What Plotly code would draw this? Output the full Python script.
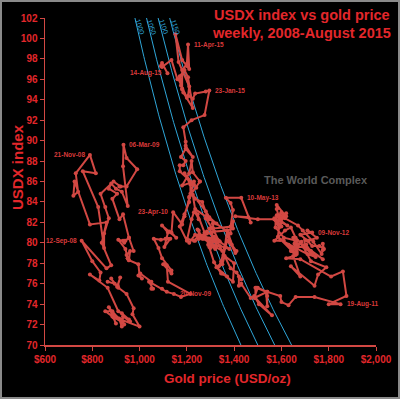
import numpy as np
import pandas as pd
import plotly.graph_objects as go

# ---------------- data (weekly, Friday) ----------------
gold_2008 = [865, 895, 880, 910, 908, 918, 905, 945, 975, 970, 1000, 920, 935, 913, 925, 915, 885, 855, 885, 890,
             925, 885, 900, 870, 903, 928, 930, 960, 955, 925, 910, 865, 790, 830, 835, 800, 755, 860, 880, 840,
             860, 790, 725, 720, 740, 730, 790, 815, 760, 825, 850, 850]
usdx_2008 = [76.2, 76.0, 76.5, 75.6, 75.8, 76.6, 75.7, 75.0, 73.6, 73.0, 71.8, 72.5, 72.0, 72.6, 71.8, 72.5, 73.3, 73.3, 72.8, 72.7,
             72.3, 73.0, 72.1, 73.7, 72.7, 72.2, 72.8, 72.3, 72.5, 73.1, 73.3, 75.6, 76.9, 76.3, 77.1, 78.2, 80.2, 77.5, 77.8, 80.0,
             82.0, 81.8, 86.0, 84.6, 85.0, 86.8, 88.6, 86.8, 87.0, 83.5, 79.5, 80.9]

gold_2009 = [870, 855, 835, 890, 920, 915, 945, 990, 945, 932, 930, 950, 925, 900, 880, 870, 905, 885, 915, 930,
             955, 975, 955, 940, 935, 935, 930, 910, 940, 950, 955, 960, 945, 950, 955, 995, 1000, 1010, 995, 1003,
             1050, 1050, 1057, 1040, 1095, 1115, 1145, 1175, 1215, 1120, 1115, 1105]
usdx_2009 = [82.4, 83.5, 84.8, 86.0, 85.5, 85.5, 85.5, 87.2, 88.3, 89.6, 87.5, 83.6, 85.0, 85.3, 85.8, 85.3, 84.8, 84.3, 82.3, 82.8,
             80.5, 79.2, 80.5, 80.2, 80.2, 80.0, 80.2, 80.3, 79.4, 78.5, 78.3, 79.2, 78.8, 78.5, 78.3, 77.9, 76.8, 76.5, 76.8, 77.0,
             76.2, 75.5, 75.5, 76.2, 75.5, 75.2, 75.0, 74.7, 75.0, 76.2, 77.8, 77.9]

gold_2010 = [1100, 1135, 1135, 1095, 1080, 1060, 1090, 1120, 1110, 1130, 1105, 1120, 1095, 1125, 1155, 1135, 1142, 1180, 1210, 1230,
             1180, 1210, 1220, 1225, 1255, 1255, 1210, 1210, 1190, 1190, 1170, 1200, 1220, 1230, 1235, 1250, 1245, 1275, 1295, 1315,
             1345, 1370, 1325, 1350, 1395, 1400, 1355, 1370, 1410, 1390, 1375, 1380, 1405]
usdx_2010 = [77.9, 77.0, 77.3, 78.5, 79.5, 80.4, 80.3, 80.4, 80.4, 80.4, 79.6, 81.0, 81.7, 81.1, 80.5, 81.0, 83.0, 81.8, 84.4, 86.0,
             85.6, 86.8, 88.0, 86.9, 86.0, 86.0, 84.5, 84.0, 82.8, 82.6, 81.6, 80.2, 82.3, 83.0, 83.0, 82.3, 82.8, 81.0, 79.6, 78.1,
             77.0, 76.7, 77.6, 77.0, 76.2, 78.0, 78.8, 80.2, 79.2, 79.8, 80.6, 80.2, 79.0]

gold_2011 = [1370, 1360, 1345, 1335, 1350, 1360, 1385, 1410, 1430, 1420, 1420, 1430, 1430, 1470, 1485, 1505, 1560, 1490, 1490, 1495,
             1535, 1540, 1540, 1540, 1500, 1485, 1540, 1595, 1600, 1630, 1660, 1740, 1850, 1800, 1875, 1860, 1810, 1680, 1620, 1650,
             1680, 1640, 1740, 1755, 1790, 1725, 1690, 1745, 1710, 1595, 1610, 1570]
usdx_2011 = [81.2, 79.5, 78.2, 77.7, 77.9, 78.7, 77.5, 77.1, 76.4, 76.7, 75.8, 75.9, 76.0, 74.6, 74.8, 74.0, 72.9, 74.6, 75.6, 75.6,
             75.2, 73.8, 74.8, 75.2, 75.6, 74.6, 75.2, 74.8, 74.2, 73.9, 74.7, 74.7, 74.0, 74.0, 74.8, 77.2, 76.7, 78.4, 78.5, 78.7,
             76.7, 77.7, 75.8, 76.9, 77.6, 78.2, 79.7, 78.6, 78.9, 80.3, 80.2, 80.2]

gold_2012 = [1615, 1640, 1660, 1725, 1730, 1725, 1725, 1775, 1710, 1705, 1655, 1660, 1665, 1630, 1655, 1640, 1660, 1645, 1585, 1590,
             1570, 1620, 1590, 1625, 1570, 1600, 1580, 1585, 1580, 1615, 1600, 1620, 1615, 1670, 1690, 1735, 1770, 1775, 1775, 1780,
             1760, 1730, 1710, 1680, 1730, 1710, 1750, 1715, 1700, 1695, 1660, 1660]
usdx_2012 = [81.2, 81.5, 80.5, 79.0, 78.9, 79.0, 79.2, 78.4, 79.5, 79.8, 79.9, 79.4, 78.9, 79.8, 79.5, 79.2, 78.8, 79.2, 80.6, 81.5,
             82.4, 82.9, 82.3, 81.7, 82.3, 81.6, 83.3, 83.4, 83.7, 82.7, 82.3, 82.6, 82.4, 81.7, 81.2, 80.1, 78.9, 79.3, 79.9, 79.4,
             79.7, 79.7, 80.2, 80.8, 81.0, 81.2, 80.5, 80.2, 80.3, 79.6, 79.6, 79.8]

gold_2013 = [1650, 1665, 1685, 1660, 1665, 1665, 1610, 1575, 1575, 1580, 1595, 1610, 1600, 1575, 1500, 1405, 1460, 1470, 1430, 1365,
             1385, 1395, 1385, 1385, 1295, 1235, 1225, 1280, 1295, 1325, 1310, 1315, 1370, 1395, 1395, 1390, 1310, 1330, 1335, 1310,
             1270, 1315, 1350, 1315, 1285, 1285, 1245, 1250, 1230, 1235, 1200, 1210]
usdx_2013 = [80.5, 79.5, 80.1, 79.8, 79.1, 80.2, 80.5, 81.5, 82.2, 82.7, 82.4, 82.5, 83.0, 82.3, 82.3, 82.6, 82.5, 82.0, 84.4, 84.4,
             83.9, 83.2, 81.6, 80.9, 82.3, 83.3, 84.7, 83.1, 82.5, 81.9, 81.9, 81.1, 81.2, 81.4, 82.1, 81.6, 81.4, 80.3, 80.2, 80.1,
             80.4, 79.7, 79.2, 80.6, 81.1, 80.9, 80.7, 80.7, 80.2, 80.2, 80.4, 80.0]

gold_2014 = [1235, 1250, 1250, 1265, 1245, 1260, 1320, 1320, 1325, 1340, 1380, 1335, 1295, 1300, 1320, 1295, 1300, 1300, 1290, 1295,
             1295, 1250, 1250, 1275, 1315, 1320, 1320, 1340, 1310, 1305, 1295, 1310, 1305, 1280, 1285, 1265, 1235, 1215, 1215, 1190,
             1220, 1240, 1230, 1170, 1170, 1185, 1195, 1175, 1195, 1225, 1195, 1195]
usdx_2014 = [80.8, 80.6, 81.2, 80.4, 81.3, 80.7, 80.2, 80.2, 79.7, 79.7, 79.4, 80.2, 80.1, 80.3, 79.4, 79.8, 79.8, 79.5, 79.8, 80.0,
             80.4, 80.4, 80.4, 80.6, 80.4, 80.1, 80.3, 80.1, 80.6, 81.0, 81.4, 81.4, 81.5, 82.4, 82.7, 84.0, 84.3, 84.8, 85.7, 86.8,
             85.9, 85.4, 85.7, 87.0, 87.6, 87.6, 88.0, 88.4, 89.2, 88.4, 89.5, 89.9]

gold_2015 = [1185, 1220, 1275, 1295, 1280, 1235, 1225, 1205, 1210, 1165, 1152, 1180, 1200, 1210, 1205, 1200, 1180, 1180, 1185, 1225,
             1205, 1190, 1170, 1180, 1200, 1175, 1165, 1160, 1135, 1095, 1090, 1095, 1118]
usdx_2015 = [91.3, 92.0, 92.5, 94.9, 94.8, 94.6, 94.1, 94.4, 95.3, 97.7, 100.4, 97.9, 97.3, 97.0, 99.4, 97.5, 96.9, 95.0, 94.7, 93.2,
             96.2, 96.9, 96.3, 95.1, 94.2, 95.4, 96.0, 96.0, 97.9, 97.2, 97.3, 97.6, 96.6]

year_starts = ["2008-01-04", "2009-01-02", "2010-01-01", "2011-01-07", "2012-01-06",
               "2013-01-04", "2014-01-03", "2015-01-02"]
gold_years = [gold_2008, gold_2009, gold_2010, gold_2011, gold_2012, gold_2013, gold_2014, gold_2015]
usdx_years = [usdx_2008, usdx_2009, usdx_2010, usdx_2011, usdx_2012, usdx_2013, usdx_2014, usdx_2015]

# date labels shown on the chart
label_dates = ["21-Nov-08", "06-Mar-09", "12-Sep-08", "23-Apr-10", "20-Nov-09",
               "10-May-13", "09-Nov-12", "19-Aug-11", "23-Jan-15", "11-Apr-15", "14-Aug-15"]
label_sides = ["left", "right", "left", "left", "right",
               "right", "right", "right", "right", "right", "left"]

# iso-lines: gold x USDX / 100 = constant
iso_levels = [1000, 1050, 1100, 1150]

x_ticks = [600, 800, 1000, 1200, 1400, 1600, 1800, 2000]

# ---------------- build series ----------------
dates, gold, usdx = [], [], []
for start, g, u in zip(year_starts, gold_years, usdx_years):
    d = pd.date_range(start, periods=len(g), freq="7D")
    dates.extend(d)
    gold.extend(g)
    usdx.extend(u)
dates = pd.DatetimeIndex(dates)

RED_LINE = "#d24843"
RED_TEXT = "#e3272b"
BLUE = "#2fa6d8"
FONT = "Liberation Sans, Arial, sans-serif"

L, R, T, B = 45, 24, 18, 54
PW, PH = 400 - L - R, 399 - T - B
def px(xp):
    return (xp - L) / PW
def py(yp):
    return (399 - B - yp) / PH

fig = go.Figure()

yy = np.linspace(70, 102, 120)
for k in iso_levels:
    fig.add_trace(go.Scatter(x=k * 100 / yy, y=yy, mode="lines",
                             line=dict(color=BLUE, width=1), hoverinfo="skip", showlegend=False))

fig.add_trace(go.Scatter(x=gold, y=usdx, mode="lines+markers",
                         line=dict(color=RED_LINE, width=2),
                         marker=dict(color=RED_LINE, size=4),
                         showlegend=False))

ann = []
for lab, side in zip(label_dates, label_sides):
    t = pd.to_datetime(lab, format="%d-%b-%y")
    i = int(np.argmin(np.abs((dates - t).days)))
    ann.append(dict(x=gold[i], y=usdx[i], xref="x", yref="y", text=lab, showarrow=False,
                    xanchor="left" if side == "right" else "right",
                    xshift=4 if side == "right" else -3,
                    font=dict(family=FONT, size=6.5, color="#d83a3a", weight="bold")))

for k in iso_levels:
    ann.append(dict(x=k * 100 / 101.8, y=py(16), xref="x", yref="paper", text=str(k), showarrow=False,
                    textangle=72, xshift=5, font=dict(family=FONT, size=7, color=BLUE)))

ann += [
    dict(x=px(392), y=py(15), xref="paper", yref="paper", text="USDX index vs gold price",
         showarrow=False, xanchor="right", yanchor="middle",
         font=dict(family=FONT, size=14.5, color=RED_TEXT, weight="bold")),
    dict(x=px(393), y=py(33), xref="paper", yref="paper", text="weekly, 2008-August 2015",
         showarrow=False, xanchor="right", yanchor="middle",
         font=dict(family=FONT, size=14.5, color=RED_TEXT, weight="bold")),
    dict(x=px(17), y=py(167), xref="paper", yref="paper", text="USDX index", textangle=-90,
         showarrow=False, xanchor="center", yanchor="middle",
         font=dict(family=FONT, size=15, color=RED_TEXT, weight="bold")),
    dict(x=px(227), y=py(378), xref="paper", yref="paper", text="Gold price (USD/oz)",
         showarrow=False, xanchor="center", yanchor="middle",
         font=dict(family=FONT, size=13.5, color=RED_TEXT, weight="bold")),
    dict(x=px(262), y=py(180), xref="paper", yref="paper", text="The World Complex",
         showarrow=False, xanchor="left", yanchor="middle",
         font=dict(family=FONT, size=11, color="#5a5a5a", weight="bold")),
]

axis_common = dict(showline=True, linecolor=RED_LINE, linewidth=1.5, ticks="outside",
                   ticklen=4, tickcolor=RED_LINE, tickwidth=1, showgrid=False, zeroline=False,
                   tickfont=dict(family=FONT, size=10, color=RED_TEXT, weight="bold"))

fig.update_layout(
    width=400, height=399,
    margin=dict(l=L, r=R, t=T, b=B, autoexpand=False),
    paper_bgcolor="black", plot_bgcolor="black",
    xaxis=dict(range=[600, 2000], tickvals=x_ticks,
               ticktext=["${:,}".format(v) for v in x_ticks], **axis_common),
    yaxis=dict(range=[70, 102], dtick=2, **axis_common),
    annotations=ann,
    shapes=[dict(type="rect", xref="paper", yref="paper",
                 x0=-(L - 1) / PW, x1=1 + (R - 1) / PW, y0=-(B - 1) / PH, y1=1 + (T - 1) / PH,
                 line=dict(color="#8a8a8a", width=2), layer="above")],
)

fig.write_html("out.html", config={"displayModeBar": False, "staticPlot": True})

# remove the browser's default page margin so the figure sits at (0, 0)
with open("out.html", "r", encoding="utf-8") as f:
    html = f.read()
html = html.replace("<body>", '<body style="margin:0;padding:0;background:black;">', 1)
with open("out.html", "w", encoding="utf-8") as f:
    f.write(html)
